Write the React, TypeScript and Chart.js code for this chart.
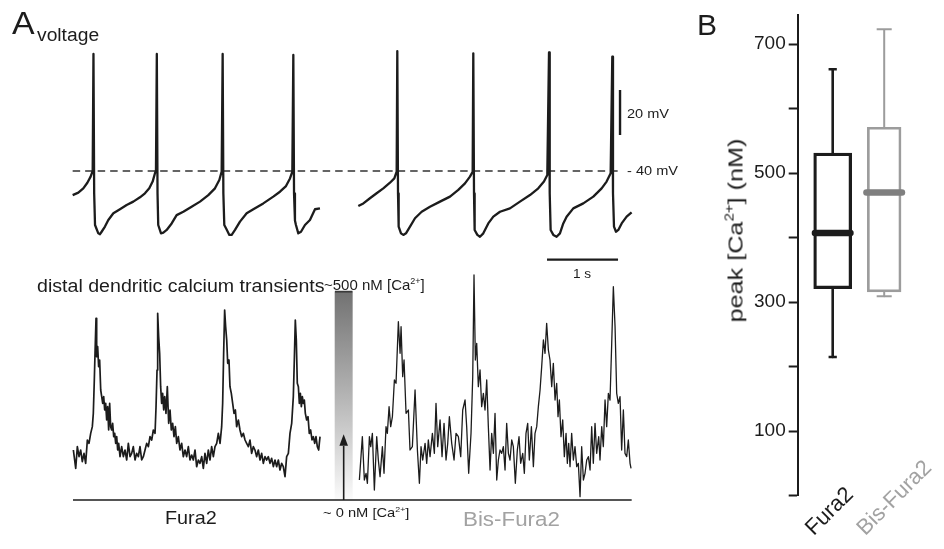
import React, { useEffect, useRef } from "react";
import { Chart, registerables } from "chart.js";

Chart.register(...registerables);

const FONT = '"Liberation Sans", Arial, Helvetica, sans-serif';
const INK = "#1c1c1c";
const GREY_TEXT = "#a2a2a2";
const GREY_BOX = "#9c9c9c";
const GREY_MEDIAN = "#7f7f7f";

// ---------------- Panel A: membrane voltage (time in ms, voltage in mV) ----------------
const fura2VoltageTime = [-5, 75, 145, 202, 248, 277, 288, 298, 310, 356, 380, 403, 450, 497, 568, 661, 755, 849, 943, 1013, 1074, 1121, 1154, 1168, 1180, 1190, 1200, 1239, 1272, 1319, 1389, 1459, 1553, 1670, 1788, 1905, 1999, 2060, 2093, 2107, 2117, 2130, 2163, 2201, 2234, 2281, 2351, 2445, 2539, 2679, 2820, 2914, 2999, 3055, 3088, 3102, 3112, 3125, 3139, 3172, 3210, 3266, 3336, 3407, 3477];
const fura2VoltageMv = [-50.7, -49.6, -47.7, -45.2, -42.5, -39.9, 12, -50, -64, -67.7, -68.1, -67, -64.7, -61.8, -58.8, -57, -55.1, -53.6, -51.7, -49.9, -47.7, -44.7, -41, -39.9, 12, -50, -64, -67.7, -67.4, -66.2, -63.3, -59.6, -58.1, -55.9, -53.6, -50.7, -47.7, -44, -40.3, 12, -50, -64, -66, -68.4, -68.4, -66.2, -62.5, -58.8, -57, -54.4, -51.4, -49.2, -46.7, -43.3, -40.3, 11.6, -50, -62, -64, -67.7, -67, -64, -61.8, -57, -56.6];

const bisVoltageTime = [4017, 4088, 4181, 4275, 4369, 4463, 4524, 4557, 4566, 4576, 4585, 4618, 4651, 4688, 4745, 4815, 4909, 5026, 5167, 5308, 5425, 5519, 5589, 5627, 5636, 5646, 5655, 5693, 5730, 5777, 5847, 5918, 6012, 6152, 6293, 6434, 6551, 6631, 6678, 6702, 6712, 6725, 6763, 6809, 6856, 6903, 6950, 7044, 7185, 7326, 7443, 7513, 7570, 7593, 7603, 7617, 7645, 7678, 7725, 7795, 7865];
const bisVoltageMv = [-55.6, -54.4, -52.1, -49.9, -47.7, -45.2, -43.3, -40.3, 13.3, -50, -64.7, -67.7, -68.4, -67.7, -64.7, -61, -58.1, -55.9, -53.6, -51.4, -48.4, -45.5, -42.5, -40.3, 12.3, -50, -66.2, -68.4, -69.2, -67.7, -63.3, -60.3, -58.1, -56.6, -53.6, -50.7, -47.7, -44.7, -41.8, 12.7, -50, -66.2, -68.4, -69.2, -67.7, -63.3, -60.3, -56.6, -54.4, -51.4, -47.7, -44.7, -41, 10.8, -50, -64.7, -67, -66.2, -63.3, -60.3, -58.4];

const thresholdMv = -40;
const thresholdSpanMs = [-5, 7716];
const mvBarTime = 7702;
const mvBarRange = [-24, -4]; // 20 mV
const timeBarRange = [6674, 7674]; // 1 s
const timeBarMv = -79.4;

// ---------------- Panel A: dendritic calcium (time in ms, [Ca2+] in nM) ----------------
const fura2CaTime = [5, 38, 61, 85, 108, 131, 155, 178, 202, 225, 249, 272, 286, 300, 310, 324, 333, 347, 361, 375, 390, 404, 418, 432, 446, 460, 474, 488, 502, 516, 530, 544, 558, 573, 587, 601, 615, 629, 643, 662, 685, 709, 732, 756, 779, 803, 826, 849, 873, 896, 920, 943, 967, 990, 1014, 1037, 1061, 1084, 1108, 1131, 1155, 1169, 1183, 1192, 1206, 1220, 1234, 1248, 1262, 1277, 1291, 1309, 1328, 1347, 1366, 1384, 1403, 1422, 1441, 1460, 1483, 1506, 1530, 1553, 1577, 1600, 1624, 1647, 1671, 1694, 1718, 1741, 1765, 1788, 1812, 1835, 1858, 1882, 1905, 1929, 1952, 1976, 1999, 2023, 2046, 2070, 2093, 2107, 2121, 2135, 2149, 2164, 2178, 2196, 2210, 2229, 2248, 2267, 2286, 2304, 2328, 2351, 2375, 2398, 2422, 2445, 2469, 2492, 2515, 2539, 2562, 2586, 2609, 2633, 2656, 2680, 2703, 2727, 2750, 2774, 2797, 2821, 2844, 2867, 2891, 2914, 2938, 2961, 2985, 3008, 3032, 3055, 3079, 3102, 3116, 3130, 3144, 3158, 3173, 3187, 3201, 3215, 3229, 3243, 3257, 3271, 3290, 3309, 3327, 3346, 3365, 3384, 3403, 3421, 3440, 3459, 3468, 3478];
const fura2CaNm = [120, 76, 128, 104, 120, 92, 112, 88, 144, 136, 160, 176, 208, 288, 352, 436, 344, 368, 320, 336, 264, 248, 232, 248, 216, 232, 192, 224, 168, 232, 176, 168, 184, 152, 160, 136, 152, 120, 136, 104, 128, 104, 120, 96, 136, 104, 112, 128, 96, 112, 104, 128, 96, 104, 120, 136, 128, 152, 144, 168, 160, 224, 312, 448, 392, 352, 272, 232, 256, 216, 248, 208, 272, 184, 216, 168, 184, 152, 176, 136, 152, 120, 136, 104, 120, 104, 128, 96, 108, 96, 120, 80, 96, 88, 104, 76, 112, 88, 120, 96, 128, 104, 128, 136, 160, 136, 176, 232, 352, 456, 416, 384, 328, 336, 272, 256, 232, 208, 216, 176, 192, 168, 152, 160, 144, 136, 128, 144, 112, 128, 120, 104, 120, 96, 112, 88, 104, 96, 104, 88, 100, 80, 96, 80, 96, 72, 88, 80, 56, 104, 112, 160, 184, 248, 336, 432, 384, 280, 272, 232, 256, 224, 248, 232, 240, 208, 192, 200, 160, 168, 144, 152, 136, 152, 128, 120, 136, 152];

const bisCaTime = [4032, 4074, 4102, 4126, 4145, 4173, 4192, 4215, 4243, 4276, 4299, 4323, 4356, 4379, 4407, 4426, 4450, 4473, 4497, 4525, 4548, 4581, 4605, 4619, 4642, 4661, 4689, 4722, 4745, 4778, 4816, 4849, 4877, 4900, 4924, 4957, 4980, 5003, 5027, 5060, 5088, 5111, 5135, 5168, 5196, 5224, 5252, 5276, 5299, 5332, 5365, 5393, 5426, 5459, 5487, 5520, 5543, 5571, 5604, 5628, 5646, 5665, 5684, 5707, 5731, 5754, 5778, 5801, 5825, 5848, 5872, 5895, 5919, 5942, 5966, 5989, 6012, 6036, 6059, 6083, 6106, 6130, 6153, 6177, 6200, 6228, 6256, 6280, 6303, 6332, 6355, 6378, 6402, 6425, 6454, 6482, 6505, 6529, 6552, 6576, 6599, 6623, 6646, 6669, 6693, 6716, 6740, 6763, 6787, 6810, 6829, 6848, 6871, 6895, 6918, 6942, 6960, 6979, 6998, 7021, 7045, 7068, 7092, 7115, 7139, 7162, 7186, 7209, 7233, 7256, 7280, 7303, 7326, 7350, 7373, 7402, 7420, 7444, 7467, 7491, 7514, 7538, 7561, 7585, 7608, 7632, 7655, 7678, 7702, 7725, 7749, 7772, 7796, 7819, 7843, 7857];
const bisCaNm = [48, 152, 48, 64, 40, 152, 128, 160, 24, 152, 96, 56, 128, 64, 176, 160, 224, 176, 200, 288, 280, 428, 352, 416, 296, 336, 208, 216, 120, 128, 264, 120, 40, 128, 96, 136, 88, 144, 104, 160, 112, 232, 128, 192, 104, 184, 96, 136, 200, 136, 96, 160, 152, 104, 216, 240, 176, 64, 160, 296, 540, 336, 376, 272, 312, 224, 256, 216, 288, 176, 72, 160, 112, 208, 48, 96, 120, 112, 128, 72, 184, 112, 96, 144, 128, 40, 120, 152, 88, 112, 64, 160, 184, 96, 176, 80, 160, 176, 224, 264, 320, 384, 352, 424, 360, 336, 272, 328, 240, 280, 200, 240, 152, 192, 104, 160, 88, 136, 80, 160, 96, 128, 80, 88, 8, 128, 48, 64, 96, 104, 72, 176, 88, 184, 112, 152, 96, 176, 128, 240, 176, 256, 240, 376, 512, 416, 256, 232, 248, 120, 216, 112, 104, 144, 88, 76];

const caBaselineSpan = [0, 7866];
const caRefTime = 3811;
const caRefRange = [0, 500]; // ~0 nM to ~500 nM reference bar
const caRefSpan = [3689, 3933];
const caArrowShaftNm = 130;
const caArrowTipNm = 158;

// ---------------- Panel B: box plot of peak [Ca2+] (nM) ----------------
const boxCategories = ["Fura2", "Bis-Fura2"];
const boxMin = [215, 309];
const boxQ1 = [321, 316];
const boxMedian = [407, 470];
const boxQ3 = [531, 571];
const boxMax = [661, 723];
const peakLabeledTicks = [100, 300, 500, 700];

function pts(t: number[], v: number[]) {
  const n = Math.min(t.length, v.length);
  const out: { x: number; y: number }[] = [];
  for (let i = 0; i < n; i++) out.push({ x: t[i], y: v[i] });
  return out;
}

const baseOptions = {
  responsive: false,
  animation: false as const,
  events: [] as any[],
  layout: { padding: 0 },
  elements: { point: { radius: 0 }, line: { tension: 0, borderJoinStyle: "round" as const } },
  plugins: { legend: { display: false }, tooltip: { enabled: false } },
};

const arrowHeadPlugin = {
  id: "arrowHead",
  afterDatasetsDraw(chart: any) {
    const { ctx, scales } = chart;
    const x = scales.x.getPixelForValue(caRefTime);
    const yTip = scales.y.getPixelForValue(caArrowTipNm);
    const yBase = scales.y.getPixelForValue(caArrowShaftNm);
    ctx.save();
    ctx.fillStyle = INK;
    ctx.beginPath();
    ctx.moveTo(x, yTip);
    ctx.lineTo(x - 4.3, yBase);
    ctx.lineTo(x + 4.3, yBase);
    ctx.closePath();
    ctx.fill();
    ctx.restore();
  },
};

const boxLabelPlugin = {
  id: "boxLabels",
  afterDraw(chart: any) {
    const { ctx, scales, chartArea } = chart;
    boxCategories.forEach((name, i) => {
      const px = scales.x.getPixelForValue(i + 1);
      ctx.save();
      ctx.translate(px - 19, chartArea.bottom + 40.5);
      ctx.rotate(-Math.PI / 4);
      ctx.font = `22px ${FONT}`;
      ctx.fillStyle = i === 0 ? INK : GREY_TEXT;
      ctx.textAlign = "left";
      ctx.textBaseline = "alphabetic";
      ctx.fillText(name, 0, 0);
      ctx.restore();
    });
  },
};

type LabelProps = {
  x: number;
  y: number;
  size: number;
  sx?: number;
  color?: string;
  anchor?: "start" | "middle" | "end";
  children: React.ReactNode;
};

function Label({ x, y, size, sx = 1, color = INK, anchor = "start", children }: LabelProps) {
  const tx = anchor === "middle" ? "-50%" : anchor === "end" ? "-100%" : "0";
  const origin = anchor === "middle" ? "center" : anchor === "end" ? "right" : "left";
  return (
    <div
      style={{
        position: "absolute",
        left: x,
        top: y - 0.8465 * size,
        fontSize: size,
        lineHeight: `${size}px`,
        fontFamily: FONT,
        color,
        whiteSpace: "nowrap",
        transform: `translateX(${tx}) scaleX(${sx})`,
        transformOrigin: `${origin} center`,
      }}
    >
      {children}
    </div>
  );
}

const Sup = ({ children }: { children: React.ReactNode }) => (
  <span style={{ fontSize: "0.6em", position: "relative", top: "-0.7em", lineHeight: 0 }}>{children}</span>
);

export default function App() {
  const vRef = useRef<HTMLCanvasElement>(null);
  const cRef = useRef<HTMLCanvasElement>(null);
  const bRef = useRef<HTMLCanvasElement>(null);

  useEffect(() => {
    const charts: Chart[] = [];

    // Voltage traces
    charts.push(
      new Chart(vRef.current as HTMLCanvasElement, {
        type: "line",
        data: {
          datasets: [
            { data: pts(fura2VoltageTime, fura2VoltageMv), borderColor: INK, borderWidth: 2.3 },
            { data: pts(bisVoltageTime, bisVoltageMv), borderColor: INK, borderWidth: 2.3 },
            {
              data: pts(thresholdSpanMs, [thresholdMv, thresholdMv]),
              borderColor: "#333",
              borderWidth: 1.4,
              borderDash: [7.5, 5],
            },
            { data: pts([mvBarTime, mvBarTime], mvBarRange), borderColor: INK, borderWidth: 2.4 },
            { data: pts(timeBarRange, [timeBarMv, timeBarMv]), borderColor: INK, borderWidth: 2.4 },
          ] as any,
        },
        options: {
          ...baseOptions,
          scales: {
            x: { type: "linear", display: false, offset: false, min: -1028, max: 8828 },
            y: { type: "linear", display: false, min: -97.33, max: 36 },
          },
        } as any,
      })
    );

    // Calcium traces
    charts.push(
      new Chart(cRef.current as HTMLCanvasElement, {
        type: "line",
        data: {
          datasets: [
            { data: pts(fura2CaTime, fura2CaNm), borderColor: INK, borderWidth: 1.7, order: 0 },
            { data: pts(bisCaTime, bisCaNm), borderColor: INK, borderWidth: 1.3, order: 0 },
            { data: pts(caBaselineSpan, [0, 0]), borderColor: INK, borderWidth: 1.4, order: 1 },
            {
              data: pts(caRefSpan, [caRefRange[1], caRefRange[1]]),
              borderColor: "#3a3a3a",
              borderWidth: 1.8,
              order: 1,
            },
            {
              data: pts([caRefTime, caRefTime], [caRefRange[0], caArrowShaftNm]),
              borderColor: INK,
              borderWidth: 1.6,
              order: 1,
            },
            {
              type: "bar",
              data: [{ x: caRefTime, y: caRefRange }],
              barThickness: 17.3,
              grouped: false,
              borderWidth: 0,
              order: 3,
              backgroundColor: (c: any) => {
                const { chart } = c;
                const { ctx, chartArea, scales } = chart;
                if (!chartArea) return "#aaa";
                const y0 = scales.y.getPixelForValue(caRefRange[1]);
                const y1 = scales.y.getPixelForValue(caRefRange[0]);
                const g = ctx.createLinearGradient(0, y0, 0, y1);
                g.addColorStop(0, "#727272");
                g.addColorStop(0.5, "#b4b4b4");
                g.addColorStop(1, "#fbfbfb");
                return g;
              },
            },
          ] as any,
        },
        options: {
          ...baseOptions,
          scales: {
            x: { type: "linear", display: false, offset: false, min: -1028, max: 8828 },
            y: { type: "linear", display: false, min: -96, max: 576 },
          },
        } as any,
        plugins: [arrowHeadPlugin],
      })
    );

    // Box plot
    const colors = [INK, GREY_BOX];
    const medianColors = [INK, GREY_MEDIAN];
    const lineWidths = [2.6, 2];
    const boxWidths = [38, 33.7];
    const capHalf = [0.08, 0.146];
    const medianHalf = 0.345;
    const boxDatasets: any[] = [];
    boxCategories.forEach((_, i) => {
      const x = i + 1;
      const line = (data: any, extra: any = {}) => ({
        type: "line",
        data,
        borderColor: colors[i],
        borderWidth: lineWidths[i],
        pointRadius: 0,
        order: 1,
        ...extra,
      });
      boxDatasets.push(
        line(pts([x - medianHalf, x + medianHalf], [boxMedian[i], boxMedian[i]]), {
          borderColor: medianColors[i],
          borderWidth: 6.5,
          borderCapStyle: "round",
          order: 0,
        })
      );
      boxDatasets.push(line(pts([x, x], [boxQ3[i], boxMax[i]])));
      boxDatasets.push(line(pts([x, x], [boxQ1[i], boxMin[i]])));
      boxDatasets.push(line(pts([x - capHalf[i], x + capHalf[i]], [boxMax[i], boxMax[i]])));
      boxDatasets.push(line(pts([x - capHalf[i], x + capHalf[i]], [boxMin[i], boxMin[i]])));
      boxDatasets.push({
        type: "bar",
        data: [{ x, y: [boxQ1[i], boxQ3[i]] }],
        barThickness: boxWidths[i],
        borderColor: colors[i],
        borderWidth: lineWidths[i],
        backgroundColor: "rgba(0,0,0,0)",
        borderSkipped: false,
        grouped: false,
        order: 2,
      });
    });

    charts.push(
      new Chart(bRef.current as HTMLCanvasElement, {
        type: "bar",
        data: { datasets: boxDatasets },
        options: {
          ...baseOptions,
          layout: { padding: { left: 0, right: 10, top: 15, bottom: 53.3 }, autoPadding: false },
          scales: {
            x: { type: "linear", display: false, offset: false, min: 0.3204, max: 2.967 },
            y: {
              type: "linear",
              min: 0,
              max: 745,
              afterFit: (s: any) => {
                s.width = 97.7;
              },
              border: { display: true, color: INK, width: 2 },
              grid: {
                drawOnChartArea: false,
                drawTicks: true,
                tickLength: 9,
                tickWidth: 2,
                tickColor: INK,
              },
              ticks: {
                stepSize: 100,
                includeBounds: false,
                padding: 3,
                color: INK,
                font: { family: FONT, size: 19 },
                callback: (v: any) => (peakLabeledTicks.includes(Number(v)) ? String(v) : ""),
              },
            },
          },
        } as any,
        plugins: [boxLabelPlugin],
      })
    );

    return () => charts.forEach((c) => c.destroy());
  }, []);

  return (
    <div
      style={{
        position: "absolute",
        left: 0,
        top: 0,
        width: 944,
        height: 549,
        background: "#fff",
        overflow: "hidden",
        fontFamily: FONT,
      }}
    >
      <canvas ref={vRef} width={700} height={300} style={{ position: "absolute", left: 0, top: 0 }} />
      <canvas ref={cRef} width={700} height={280} style={{ position: "absolute", left: 0, top: 260 }} />
      <canvas ref={bRef} width={244} height={549} style={{ position: "absolute", left: 700, top: 0 }} />

      <Label x={12} y={34.3} size={32} sx={1.06}>A</Label>
      <Label x={36.7} y={41.7} size={18} sx={1.07}>voltage</Label>
      <Label x={627.3} y={118.5} size={13} sx={1.12}>20 mV</Label>
      <Label x={627.3} y={175.3} size={13} sx={1.12}>- 40 mV</Label>
      <Label x={581.7} y={278} size={13} sx={1.05} anchor="middle">1 s</Label>
      <Label x={37.3} y={292.7} size={17.5} sx={1.12}>distal dendritic calcium transients</Label>
      <Label x={324} y={289.5} size={15}>
        ~500 nM [Ca<Sup>2+</Sup>]
      </Label>
      <Label x={322.7} y={517} size={13} sx={1.13}>
        ~ 0 nM [Ca<Sup>2+</Sup>]
      </Label>
      <Label x={165} y={525} size={18.5} sx={1.07}>Fura2</Label>
      <Label x={463.3} y={526.5} size={20.5} sx={1.09} color={GREY_TEXT}>Bis-Fura2</Label>

      <Label x={697} y={35} size={30}>B</Label>
      <div
        style={{
          position: "absolute",
          left: 735,
          top: 230.5 - 10.5,
          fontSize: 21,
          lineHeight: "21px",
          fontFamily: FONT,
          color: INK,
          whiteSpace: "nowrap",
          transform: "translateX(-50%) rotate(-90deg) scaleX(1.2)",
          transformOrigin: "center center",
        }}
      >
        peak [Ca<Sup>2+</Sup>] (nM)
      </div>
    </div>
  );
}
